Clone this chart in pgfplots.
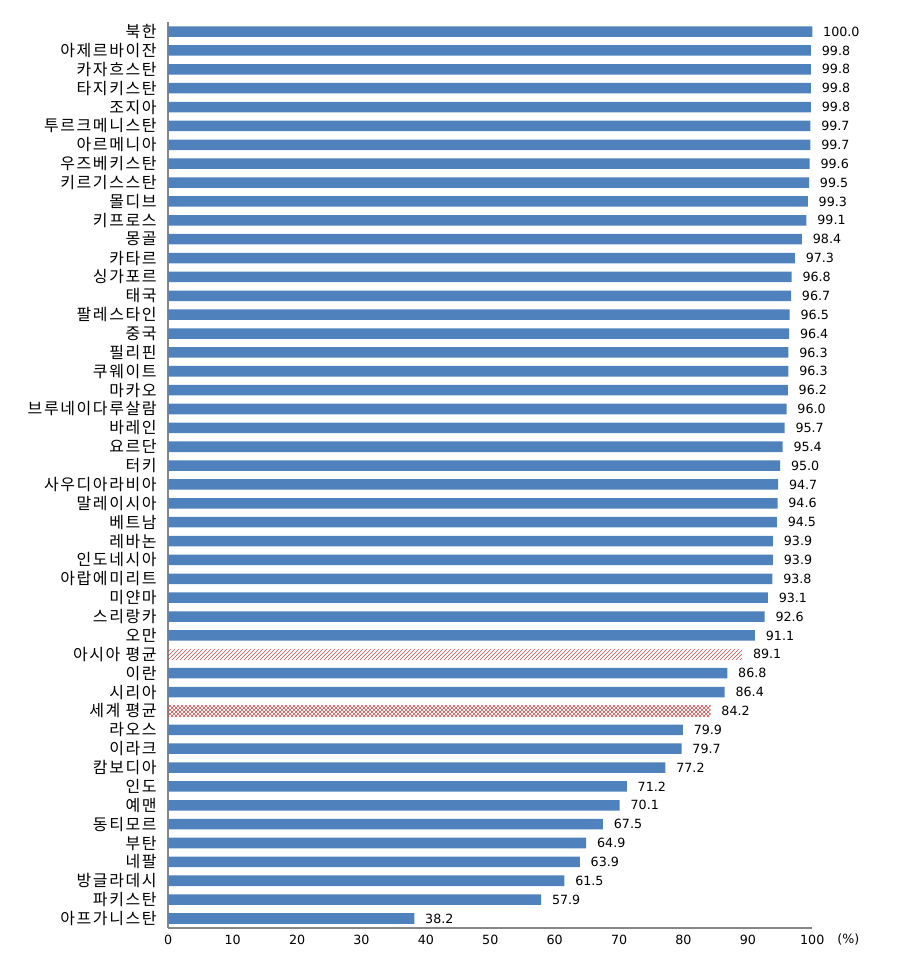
\documentclass[border=0pt]{standalone}
\usepackage{fontspec}
\setmainfont{DejaVu Sans}
\newfontfamily\cjk[LetterSpace=10]{Noto Sans CJK KR}
\usepackage{pgfplots}
\pgfplotsset{compat=1.18}
\usetikzlibrary{patterns}
\definecolor{barblue}{RGB}{79,129,189}
\definecolor{hatchred}{RGB}{200,80,77}
\definecolor{axisgray}{RGB}{134,134,134}
\begin{document}
\begin{tikzpicture}
\useasboundingbox (-126.2pt,-39.2pt) rectangle (557.8pt,695.8pt);
\begin{axis}[
    scale only axis,
    width=483pt, height=679.3pt,
    xbar, bar width=7.9pt, bar shift=0pt,
    xmin=0, xmax=100, ymin=-0.49, ymax=47.51,
    axis lines*=left,
    axis line style={axisgray, line width=1.5pt},
    major tick length=0pt,
    xtick={0,10,...,100},
    ytick={0,...,47},
    yticklabels={아프가니스탄, 파키스탄, 방글라데시, 네팔, 부탄, 동티모르, 예맨, 인도,
      캄보디아, 이라크, 라오스, 세계 평균, 시리아, 이란, 아시아 평균, 오만, 스리랑카,
      미얀마, 아랍에미리트, 인도네시아, 레바논, 베트남, 말레이시아, 사우디아라비아,
      터키, 요르단, 바레인, 브루네이다루살람, 마카오, 쿠웨이트, 필리핀, 중국,
      팔레스타인, 태국, 싱가포르, 카타르, 몽골, 키프로스, 몰디브, 키르기스스탄,
      우즈베키스탄, 아르메니아, 투르크메니스탄, 조지아, 타지키스탄, 카자흐스탄,
      아제르바이잔, 북한},
    yticklabel style={font=\cjk\fontsize{12}{12}\selectfont, anchor=east,
      inner sep=0pt, xshift=-8.5pt},
    xticklabel style={font=\fontsize{9.5}{10}\selectfont, anchor=north,
      inner sep=0pt, yshift=-5pt},
    /pgf/number format/assume math mode=true,
    xlabel={(\%)},
    xlabel style={at={(rel axis cs:1.056,0)}, anchor=north, inner sep=0pt,
      yshift=-4.5pt, font=\fontsize{9.5}{10}\selectfont},
    point meta=x,
    nodes near coords={\pgfmathprintnumber[fixed,fixed zerofill,precision=1,assume math mode=true]{\pgfplotspointmeta}},
    every node near coord/.append style={font=\fontsize{9.5}{10}\selectfont,
      anchor=west, inner sep=0pt, xshift=8pt, black},
  ]
  \addplot[fill=barblue, draw=none] coordinates {
    (100.0,47) (99.8,46) (99.8,45) (99.8,44) (99.8,43) (99.7,42) (99.7,41)
    (99.6,40) (99.5,39) (99.3,38) (99.1,37) (98.4,36) (97.3,35) (96.8,34)
    (96.7,33) (96.5,32) (96.4,31) (96.3,30) (96.3,29) (96.2,28) (96.0,27)
    (95.7,26) (95.4,25) (95.0,24) (94.7,23) (94.6,22) (94.5,21) (93.9,20)
    (93.9,19) (93.8,18) (93.1,17) (92.6,16) (91.1,15)
    (86.8,13) (86.4,12)
    (79.9,10) (79.7,9) (77.2,8) (71.2,7) (70.1,6) (67.5,5) (64.9,4)
    (63.9,3) (61.5,2) (57.9,1) (38.2,0)
  };
  % Asia average
  \addplot[pattern=north east lines, pattern color=hatchred, draw=none] coordinates {(89.1,14)};
  % World average
  \addplot[pattern=crosshatch, pattern color=hatchred, draw=none] coordinates {(84.2,11)};
\end{axis}
\end{tikzpicture}
\end{document}
